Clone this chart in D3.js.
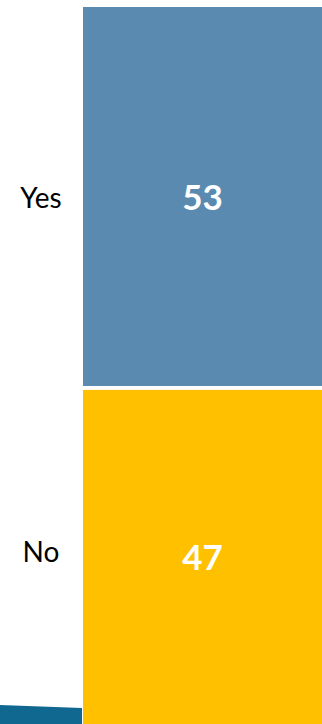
<!DOCTYPE html>
<html lang="en">
<head>
    <meta charset="UTF-8">
    <title>Yes / No</title>
    <style>
        html, body { margin: 0; padding: 0; background: #fff; }
        svg { display: block; }
        .cat { font-family: Lato, "Open Sans", sans-serif; font-size: 28px; fill: #000; }
        .val { font-family: Lato, "Open Sans", sans-serif; font-size: 35px; font-weight: bold; fill: #fff; }
    </style>
</head>
<body>
    <svg id="chart"></svg>

    <script src="https://d3js.org/d3.v7.min.js"></script>
    <script>
        const categories = ["Yes", "No"];
        const values = [53, 47];
        const colors = ["#5b8ab0", "#ffc000"];

        const width = 322;
        const height = 724;
        const barLeft = 83;
        const gap = 2.6;

        const svg = d3.select("#chart")
            .attr("width", width)
            .attr("height", height);

        // stacked 100% column, drawn top to bottom
        let acc = 0;
        const stacked = categories.map((c, i) => {
            const d = { name: c, value: values[i], start: acc, end: acc + values[i], color: colors[i] };
            acc += values[i];
            return d;
        });

        const y = d3.scaleLinear()
            .domain([0, d3.sum(values)])
            .range([7, 727]);

        // decorative teal band at bottom left
        svg.append("path")
            .attr("d", "M0,705 L82,708 L82,724 L0,724 Z")
            .attr("fill", "#106891");

        const seg = svg.selectAll(".seg")
            .data(stacked)
            .enter()
            .append("g")
            .attr("class", "seg");

        seg.append("rect")
            .attr("x", barLeft)
            .attr("y", d => y(d.start) + (d.start > 0 ? gap / 2 : 0))
            .attr("width", width - barLeft)
            .attr("height", d => y(d.end) - y(d.start) - gap)
            .attr("fill", d => d.color);

        seg.append("text")
            .attr("class", "val")
            .attr("x", (barLeft + width) / 2)
            .attr("y", d => (y(d.start) + y(d.end)) / 2)
            .attr("dy", "0.36em")
            .attr("text-anchor", "middle")
            .text(d => d.value);

        seg.append("text")
            .attr("class", "cat")
            .attr("x", 41)
            .attr("y", (d, i) => (y(d.start) + y(d.end)) / 2 - (i ? 6 : 0))
            .attr("dy", "0.36em")
            .attr("text-anchor", "middle")
            .text(d => d.name);
    </script>
</body>
</html>
